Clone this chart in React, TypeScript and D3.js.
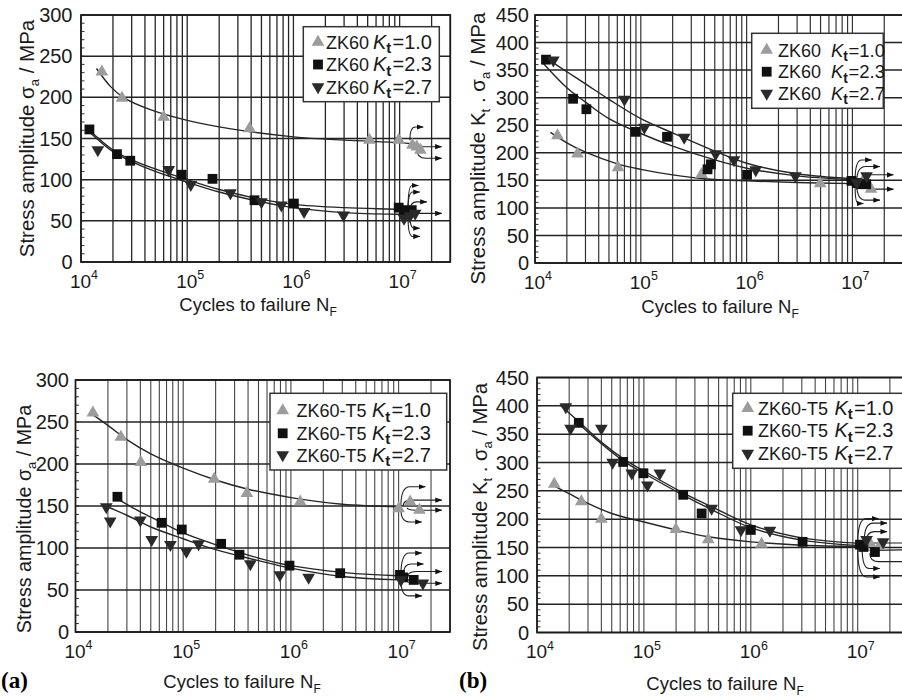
import React from 'react';
import * as d3 from 'd3';

type Pt = [number, number];
// runout: [N start, value start, N arrow tip, value arrow tip]
type Run = [number, number, number, number];

// ---------- ZK60: stress amplitude σa (MPa) ----------
const zk60SigKt10: Pt[] = [[1.57e4, 231], [2.43e4, 199], [6.0e4, 176], [3.86e5, 162], [5.2e6, 148], [9.8e6, 148], [1.32e7, 142], [1.45e7, 140], [1.57e7, 136]];
const zk60SigKt23: Pt[] = [[1.2e4, 161], [2.18e4, 131], [2.91e4, 123], [8.87e4, 106], [1.73e5, 101], [4.3e5, 75], [1.01e6, 71], [9.8e6, 66], [1.1e7, 63], [1.2e7, 62], [1.3e7, 63]];
const zk60SigKt27: Pt[] = [[1.44e4, 136], [6.7e4, 112], [1.08e5, 94], [2.55e5, 84], [5.0e5, 73], [7.7e5, 69], [1.26e6, 61], [2.96e6, 57], [1.1e7, 53], [1.25e7, 56], [1.4e7, 59]];
const zk60SigFit10: Pt[] = [[1.4e4, 235], [1.9e4, 213], [2.5e4, 200], [4.5e4, 185], [1e5, 172], [2.5e5, 162], [1e6, 152], [3e6, 148], [1e7, 145], [1.5e7, 143]];
const zk60SigFit23: Pt[] = [[1.2e4, 160], [2e4, 136], [3e4, 124], [5e4, 113], [1e5, 100], [2e5, 88], [5e5, 76], [1e6, 70], [3e6, 66], [1e7, 64], [1.4e7, 63]];
const zk60SigFit27: Pt[] = [[1.2e4, 158], [2e4, 134], [3e4, 122], [5e4, 110], [1e5, 97], [2e5, 85], [5e5, 73], [1e6, 66], [3e6, 60], [1e7, 58], [1.4e7, 58]];
const zk60SigRunouts: Run[] = [
  [1.25e7, 148, 1.67e7, 164], [1.3e7, 142, 2.49e7, 140], [1.45e7, 138, 2.49e7, 126],
  [1.2e7, 64, 1.5e7, 93], [1.2e7, 63, 1.55e7, 85], [1.25e7, 62, 1.8e7, 73],
  [1.2e7, 60, 2.49e7, 59], [1.25e7, 57, 1.55e7, 41], [1.2e7, 55, 1.55e7, 31],
];

// ---------- ZK60: Kt · σa (MPa) ----------
const zk60KsKt10: Pt[] = [[1.63e4, 231], [2.52e4, 198], [6.1e4, 173], [3.75e5, 161], [4.96e6, 144], [1.25e7, 148], [1.5e7, 134]];
const zk60KsKt23: Pt[] = [[1.27e4, 369], [2.29e4, 298], [3.06e4, 279], [8.9e4, 238], [1.77e5, 229], [4.27e5, 170], [4.6e5, 179], [1.01e6, 160], [9.8e6, 149], [1.1e7, 145], [1.2e7, 143], [1.35e7, 143]];
const zk60KsKt27: Pt[] = [[1.49e4, 368], [7.0e4, 297], [1.08e5, 246], [2.57e5, 228], [5.1e5, 198], [7.6e5, 187], [1.22e6, 169], [2.89e6, 158], [1.1e7, 146], [1.36e7, 158]];
const zk60KsFit10: Pt[] = [[1.4e4, 237], [2e4, 218], [3e4, 201], [6e4, 180], [1e5, 170], [2e5, 160], [4e5, 153], [1e6, 149], [3e6, 146], [1e7, 144], [1.4e7, 143]];
const zk60KsFit23: Pt[] = [[1.2e4, 362], [2e4, 318], [3e4, 292], [5e4, 262], [1e5, 235], [2e5, 212], [5e5, 187], [1e6, 172], [3e6, 158], [1e7, 151], [1.4e7, 150]];
const zk60KsFit27: Pt[] = [[1.3e4, 371], [2e4, 347], [3e4, 325], [5e4, 297], [1e5, 262], [2e5, 236], [5e5, 203], [1e6, 181], [3e6, 162], [1e7, 153], [1.4e7, 152]];
const zk60KsRunouts: Run[] = [
  [1.06e7, 150, 1.52e7, 187], [1.1e7, 148, 1.82e7, 175], [1.2e7, 146, 2.44e7, 160],
  [1.25e7, 140, 2.44e7, 134], [1.1e7, 142, 1.82e7, 114], [1.06e7, 140, 1.27e7, 108],
];

// ---------- ZK60-T5: stress amplitude σa (MPa) ----------
const t5SigKt10: Pt[] = [[1.45e4, 261], [2.64e4, 232], [4.04e4, 202], [1.94e5, 182], [3.9e5, 165], [1.22e6, 155], [1.0e7, 147], [1.28e7, 155], [1.56e7, 145]];
const t5SigKt23: Pt[] = [[2.45e4, 161], [6.3e4, 130], [9.7e4, 122], [2.25e5, 105], [3.33e5, 92], [9.7e5, 79], [2.87e6, 70], [1.03e7, 68], [1.1e7, 65], [1.38e7, 62]];
const t5SigKt27: Pt[] = [[1.93e4, 149], [2.1e4, 132], [4.0e4, 133], [5.1e4, 110], [7.6e4, 104], [1.07e5, 96], [1.39e5, 105], [4.2e5, 81], [7.9e5, 68], [1.46e6, 65], [1.05e7, 62], [1.68e7, 58]];
const t5SigFit10: Pt[] = [[1.4e4, 260], [2e4, 246], [3e4, 229], [5e4, 212], [1e5, 195], [2e5, 181], [4e5, 170], [1e6, 160], [3e6, 152], [1e7, 149]];
const t5SigFit23: Pt[] = [[2.5e4, 158], [4e4, 143], [6e4, 132], [1e5, 118], [2e5, 104], [5e5, 88], [1e6, 79], [3e6, 71], [1e7, 67], [1.3e7, 67]];
const t5SigFit27: Pt[] = [[1.9e4, 150], [3e4, 139], [5e4, 125], [1e5, 111], [2e5, 98], [5e5, 85], [1e6, 76], [3e6, 66], [1e7, 62], [1.3e7, 62]];
const t5SigRunouts: Run[] = [
  [1.05e7, 150, 1.77e7, 173], [1.1e7, 150, 2.52e7, 157], [1.2e7, 148, 2.52e7, 145], [1.05e7, 146, 1.64e7, 131],
  [1.05e7, 67, 1.64e7, 94], [1.1e7, 66, 1.7e7, 81], [1.2e7, 64, 2.52e7, 72], [1.2e7, 61, 2.52e7, 58], [1.05e7, 62, 1.64e7, 43],
];

// ---------- ZK60-T5: Kt · σa (MPa) ----------
const t5KsKt10: Pt[] = [[1.45e4, 262], [2.6e4, 231], [4.0e4, 200], [1.99e5, 182], [4.0e5, 164], [1.26e6, 156], [1.15e7, 150], [1.3e7, 158], [1.6e7, 152]];
const t5KsKt23: Pt[] = [[2.46e4, 370], [6.4e4, 301], [9.9e4, 281], [2.33e5, 243], [3.47e5, 210], [1.0e6, 181], [3.05e6, 160], [1.05e7, 155], [1.13e7, 151], [1.45e7, 142]];
const t5KsKt27: Pt[] = [[1.86e4, 398], [2.06e4, 360], [4.0e4, 360], [5.1e4, 300], [7.7e4, 281], [1.08e5, 260], [1.41e5, 281], [4.3e5, 219], [8.1e5, 181], [1.51e6, 180], [1.21e7, 164], [1.73e7, 160]];
const t5KsFit10: Pt[] = [[1.4e4, 260], [2e4, 245], [3e4, 228], [5e4, 210], [1e5, 195], [2e5, 181], [4e5, 169], [1e6, 160], [3e6, 154], [1e7, 152]];
const t5KsFit23: Pt[] = [[2.4e4, 370], [4e4, 333], [6.5e4, 302], [1e5, 281], [2.3e5, 243], [4.3e5, 217], [1e6, 185], [3e6, 163], [1.1e7, 153]];
const t5KsFit27: Pt[] = [[1.65e4, 401], [2.5e4, 371], [4e4, 336], [6.5e4, 306], [1e5, 285], [2.3e5, 247], [4.3e5, 222], [1e6, 190], [3e6, 167], [1.1e7, 157]];
const t5KsRunouts: Run[] = [
  [1.0e7, 155, 1.56e7, 201], [1.15e7, 160, 1.88e7, 193], [1.2e7, 158, 1.88e7, 178], [1.3e7, 158, 3e7, 158],
  [1.4e7, 145, 3e7, 146], [1.3e7, 140, 3e7, 125], [1.1e7, 150, 1.61e7, 113], [1.0e7, 150, 1.61e7, 98],
];

// ---------- axes / legend text ----------
const decades = [1e4, 1e5, 1e6, 1e7];
const decadeExponents = ['4', '5', '6', '7'];
const stressTicks300 = [0, 50, 100, 150, 200, 250, 300];
const stressTicks450 = [0, 50, 100, 150, 200, 250, 300, 350, 400, 450];
const ktValues = ['1.0', '2.3', '2.7'];
const materialZK60 = 'ZK60';
const materialT5 = 'ZK60-T5';
const xDomain: [number, number] = [1e4, 3e7];

const FONT = '"Liberation Sans", Arial, Helvetica, sans-serif';
const MARK_FILL = ['#9c9c9c', '#101010', '#2a2a2a'];

type Box = { left: number; right: number; top: number; bottom: number };
type LegendLayout = {
  x0: number; x1: number; y0: number; y1: number;
  markX: number; textX: number; kX: number; eqX: number; kSize: number; rows: number[];
};
type PanelProps = {
  box: Box;
  yMax: number;
  yTicks: number[];
  tickGap: number;
  gridColor: string;
  gridWidth: number;
  series: Pt[][];
  fits: Pt[][];
  runs: Run[];
  material: string;
  legend: LegendLayout;
  xTitle: { x: number; y: number };
  yTitle: { x: number; y: number; size: number; kt: boolean };
};

function Marker({ kind, x, y }: { kind: number; x: number; y: number }) {
  const path = kind === 1 ? d3.symbol(d3.symbolSquare, 96)() : d3.symbol(d3.symbolTriangle, 70)();
  const rot = kind === 2 ? ' rotate(180)' : '';
  return <path d={path || ''} transform={`translate(${x},${y})${rot}`} fill={MARK_FILL[kind]} />;
}

function runPath(x0: number, y0: number, x1: number, y1: number) {
  if (Math.abs(y1 - y0) < 0.8) return `M${x0},${y0}L${x1},${y1}`;
  const xm = x0 + Math.min(9, (x1 - x0) * 0.4);
  return `M${x0},${y0}Q${x0},${y1} ${xm},${y1}L${x1},${y1}`;
}

function Panel(p: PanelProps) {
  const { box, legend } = p;
  const x = d3.scaleLog().domain(xDomain).range([box.left, box.right]);
  const y = d3.scaleLinear().domain([0, p.yMax]).range([box.bottom, box.top]);
  const line = d3
    .line<Pt>()
    .x((d) => x(d[0]))
    .y((d) => y(d[1]))
    .curve(d3.curveCatmullRom.alpha(0.5));

  const gridN: number[] = [];
  decades.forEach((d) => {
    for (let m = 1; m <= 9; m++) if (m * d <= xDomain[1]) gridN.push(m * d);
  });
  const minorY = d3.range(0, p.yMax + 1, 10);

  return (
    <g>
      {/* vertical log grid */}
      {gridN.map((n) => (
        <line key={'v' + n} x1={x(n)} x2={x(n)} y1={box.top} y2={box.bottom} stroke={p.gridColor} strokeWidth={p.gridWidth} />
      ))}
      {/* horizontal grid */}
      {p.yTicks.map((t) => (
        <line key={'h' + t} x1={box.left} x2={box.right} y1={y(t)} y2={y(t)} stroke="#222" strokeWidth={1.5} />
      ))}
      {/* minor ticks on the stress axis */}
      {minorY.map((t) => (
        <line key={'m' + t} x1={box.left} x2={box.left + 3.5} y1={y(t)} y2={y(t)} stroke="#333" strokeWidth={1} />
      ))}
      <rect x={box.left} y={box.top} width={box.right - box.left} height={box.bottom - box.top} fill="none" stroke="#1a1a1a" strokeWidth={1.7} />

      {/* fitted curves */}
      {p.fits.map((f, i) => (
        <path key={'f' + i} d={line(f) || ''} fill="none" stroke="#262626" strokeWidth={1.4} />
      ))}

      {/* runouts */}
      {p.runs.map((r, i) => (
        <path
          key={'r' + i}
          d={runPath(x(r[0]), y(r[1]), x(r[2]), y(r[3]))}
          fill="none"
          stroke="#222"
          strokeWidth={1.1}
          markerEnd="url(#arrowHead)"
        />
      ))}

      {/* data points */}
      {p.series.map((s, k) =>
        s.map((d, i) => <Marker key={`p${k}-${i}`} kind={k} x={x(d[0])} y={y(d[1])} />)
      )}

      {/* y tick labels */}
      {p.yTicks.map((t) => (
        <text key={'yl' + t} x={box.left - p.tickGap} y={y(t) + 7.1} textAnchor="end" fontSize={20} fontFamily={FONT} fill="#1a1a1a">
          {t}
        </text>
      ))}
      {/* x tick labels */}
      {decades.map((d, i) => (
        <text key={'xl' + d} x={x(d) + 3} y={box.bottom + 25.5} textAnchor="middle" fontSize={19} fontFamily={FONT} fill="#1a1a1a">
          10
          <tspan dy={-8.5} fontSize={12.5}>
            {decadeExponents[i]}
          </tspan>
        </text>
      ))}

      {/* x title */}
      <text x={p.xTitle.x} y={p.xTitle.y} textAnchor="middle" fontSize={18.5} fontFamily={FONT} fill="#1a1a1a">
        Cycles to failure N
        <tspan dy={4.5} fontSize={12}>
          F
        </tspan>
      </text>
      {/* y title */}
      <text
        transform={`translate(${p.yTitle.x},${p.yTitle.y}) rotate(-90)`}
        textAnchor="middle"
        fontSize={p.yTitle.size}
        fontFamily={FONT}
        fill="#1a1a1a"
      >
        {p.yTitle.kt ? (
          <>
            Stress amplitude K
            <tspan dy={5} fontSize={13}>
              t
            </tspan>
            <tspan dy={-5}> . σ</tspan>
          </>
        ) : (
          'Stress amplitude σ'
        )}
        <tspan dy={5} fontSize={13}>
          a
        </tspan>
        <tspan dy={-5}> / MPa</tspan>
      </text>

      {/* legend */}
      <rect
        x={legend.x0}
        y={legend.y0}
        width={legend.x1 - legend.x0}
        height={legend.y1 - legend.y0}
        fill="#fff"
        stroke="#333"
        strokeWidth={1.5}
      />
      {ktValues.map((kt, k) => (
        <g key={'lg' + k}>
          <Marker kind={k} x={legend.markX} y={legend.rows[k]} />
          <text x={legend.textX} y={legend.rows[k] + 6.5} fontSize={18} fontFamily={FONT} fill="#1a1a1a">
            {p.material}
          </text>
          <text x={legend.kX} y={legend.rows[k] + 6.6} fontSize={legend.kSize} fontFamily={FONT} fill="#1a1a1a">
            <tspan fontStyle="italic">K</tspan>
            <tspan dy={4.5} fontSize={legend.kSize * 0.75} fontWeight="bold">
              t
            </tspan>
          </text>
          <text x={legend.eqX} y={legend.rows[k] + 6.6} fontSize={legend.kSize} fontFamily={FONT} fill="#1a1a1a">
            ={kt}
          </text>
        </g>
      ))}
    </g>
  );
}

export default function App() {
  return (
    <svg
      width={902}
      height={696}
      viewBox="0 0 902 696"
      style={{ position: 'absolute', left: 0, top: 0, background: '#fff' }}
    >
      <defs>
        <marker id="arrowHead" viewBox="0 0 8 6" refX={7.5} refY={3} markerWidth={7} markerHeight={6} markerUnits="userSpaceOnUse" orient="auto">
          <path d="M0,0L8,3L0,6Z" fill="#111" />
        </marker>
      </defs>
      <rect x={0} y={0} width={902} height={696} fill="#fff" />

      <Panel
        box={{ left: 81, right: 450.3, top: 15, bottom: 262 }}
        yMax={300}
        yTicks={stressTicks300}
        tickGap={8.5}
        gridColor="#262626"
        gridWidth={1.3}
        series={[zk60SigKt10, zk60SigKt23, zk60SigKt27]}
        fits={[zk60SigFit10, zk60SigFit23, zk60SigFit27]}
        runs={zk60SigRunouts}
        material={materialZK60}
        legend={{ x0: 303.3, x1: 439.3, y0: 26.7, y1: 101.7, markX: 318, textX: 326, kX: 373, eqX: 392.5, kSize: 20, rows: [42, 64.5, 87] }}
        xTitle={{ x: 258, y: 311 }}
        yTitle={{ x: 34, y: 138.5, size: 20.5, kt: false }}
      />
      <Panel
        box={{ left: 535, right: 902.9, top: 15, bottom: 263 }}
        yMax={450}
        yTicks={stressTicks450}
        tickGap={6}
        gridColor="#333"
        gridWidth={1.2}
        series={[zk60KsKt10, zk60KsKt23, zk60KsKt27]}
        fits={[zk60KsFit10, zk60KsFit23, zk60KsFit27]}
        runs={zk60KsRunouts}
        material={materialZK60}
        legend={{ x0: 751.7, x1: 883.3, y0: 33.3, y1: 108.3, markX: 766.7, textX: 778, kX: 831, eqX: 848.5, kSize: 18.5, rows: [50, 71.7, 93.3] }}
        xTitle={{ x: 720, y: 313 }}
        yTitle={{ x: 485, y: 148.5, size: 20.5, kt: true }}
      />
      <Panel
        box={{ left: 75.5, right: 450, top: 380, bottom: 632 }}
        yMax={300}
        yTicks={stressTicks300}
        tickGap={6.5}
        gridColor="#444"
        gridWidth={1.1}
        series={[t5SigKt10, t5SigKt23, t5SigKt27]}
        fits={[t5SigFit10, t5SigFit23, t5SigFit27]}
        runs={t5SigRunouts}
        material={materialT5}
        legend={{ x0: 270, x1: 446.7, y0: 393.3, y1: 470, markX: 282.7, textX: 296.5, kX: 372, eqX: 391.5, kSize: 20, rows: [410.7, 433.3, 455] }}
        xTitle={{ x: 242, y: 688 }}
        yTitle={{ x: 30.5, y: 519, size: 19.7, kt: false }}
      />
      <Panel
        box={{ left: 537, right: 908.7, top: 377.5, bottom: 632.5 }}
        yMax={450}
        yTicks={stressTicks450}
        tickGap={8}
        gridColor="#444"
        gridWidth={1.1}
        series={[t5KsKt10, t5KsKt23, t5KsKt27]}
        fits={[t5KsFit10, t5KsFit23, t5KsFit27]}
        runs={t5KsRunouts}
        material={materialT5}
        legend={{ x0: 732.7, x1: 915, y0: 393.3, y1: 468.3, markX: 747.7, textX: 758, kX: 834.5, eqX: 854, kSize: 20, rows: [408.3, 430.7, 453.3] }}
        xTitle={{ x: 725, y: 690 }}
        yTitle={{ x: 487, y: 517, size: 20.2, kt: true }}
      />

      <text x={1} y={688} fontSize={23} fontWeight="bold" fontFamily='"Liberation Serif", "Times New Roman", serif' fill="#000">
        (a)
      </text>
      <text x={459} y={688} fontSize={23} fontWeight="bold" fontFamily='"Liberation Serif", "Times New Roman", serif' fill="#000">
        (b)
      </text>
    </svg>
  );
}
